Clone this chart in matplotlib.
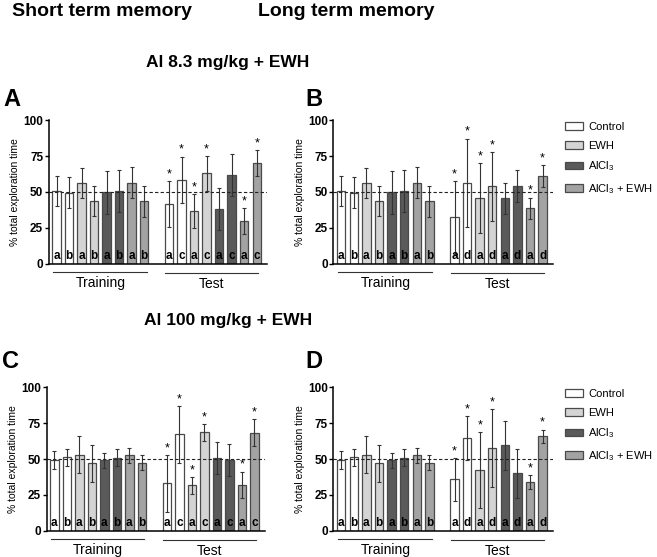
import numpy as np
import matplotlib
matplotlib.use("Agg")
import matplotlib.pyplot as plt
from matplotlib.patches import Patch
from matplotlib.transforms import blended_transform_factory

plt.rcParams['font.family'] = ['Liberation Sans', 'DejaVu Sans']
plt.rcParams['mathtext.fontset'] = 'custom'
plt.rcParams['mathtext.rm'] = 'Liberation Sans'
plt.rcParams['mathtext.it'] = 'Liberation Sans:italic'
plt.rcParams['mathtext.bf'] = 'Liberation Sans:bold'

# groups and labels
groups = ['Control', 'EWH', 'AlCl$_3$', 'AlCl$_3$ + EWH']
group_colors = ['#ffffff', '#d4d4d4', '#5a5a5a', '#a3a3a3']
train_letters = ['a', 'b', 'a', 'b', 'a', 'b', 'a', 'b']
stm_test_letters = ['a', 'c', 'a', 'c', 'a', 'c', 'a', 'c']
ltm_test_letters = ['a', 'd', 'a', 'd', 'a', 'd', 'a', 'd']
test_stars = [1, 1, 1, 1, 0, 0, 1, 1]

# Al 8.3 mg/kg + EWH
train_83_mean = [50.5, 49.5, 56.3, 43.7, 49.8, 50.7, 56.5, 43.5]
train_83_err = [10.5, 10.8, 10.7, 10.6, 14.8, 14.7, 11.0, 11.0]
stm_83_mean = [41.4, 58.4, 36.7, 63.0, 37.9, 61.9, 29.8, 70.2]
stm_83_err = [16.1, 16.3, 11.8, 12.0, 14.7, 14.6, 9.0, 9.0]
ltm_83_mean = [32.3, 56.5, 45.8, 54.0, 45.6, 54.0, 38.6, 61.2]
ltm_83_err = [25.2, 30.8, 24.1, 24.0, 11.0, 11.0, 7.5, 7.5]

# Al 100 mg/kg + EWH
train_100_mean = [49.3, 51.2, 53.0, 47.0, 49.0, 51.0, 52.6, 47.4]
train_100_err = [6.2, 6.0, 13.0, 12.8, 5.2, 5.7, 5.4, 5.3]
stm_100_mean = [33.0, 67.2, 31.6, 68.6, 50.7, 49.3, 31.9, 68.4]
stm_100_err = [19.8, 19.8, 5.8, 5.7, 11.3, 10.9, 9.3, 9.3]
ltm_100_mean = [35.8, 64.4, 42.3, 57.7, 59.5, 40.0, 34.0, 65.8]
ltm_100_err = [15.1, 15.4, 26.7, 27.1, 17.0, 16.9, 4.6, 4.7]

W, H = 657, 557
fig = plt.figure(figsize=(W / 100, H / 100), dpi=100)


def px_axes(x0, x1, ytop, ybot):
    return fig.add_axes([x0 / W, 1 - ybot / H, (x1 - x0) / W, (ybot - ytop) / H])


def panel(ax, tr_mean, tr_err, te_mean, te_err, te_letters):
    xs = np.r_[0:8, 9:17]
    means = list(tr_mean) + list(te_mean)
    errs = list(tr_err) + list(te_err)
    letters = train_letters + te_letters
    stars = [0] * 8 + test_stars
    cols = [group_colors[(i % 8) // 2] for i in range(16)]
    ax.bar(xs, means, width=0.67, color=cols, edgecolor='#4a4a4a', linewidth=0.9, zorder=2)
    ax.errorbar(xs, means, yerr=errs, fmt='none', ecolor='#333333', elinewidth=0.8,
                capsize=1.5, capthick=0.8, zorder=3)
    ax.axhline(50, color='#222222', lw=0.8, ls=(0, (3, 2)), zorder=4)
    for x, m, e, l, s in zip(xs, means, errs, letters, stars):
        ax.text(x, 1.5, l, ha='center', va='bottom', fontsize=8.5, fontweight='bold', zorder=5)
        if s:
            ax.text(x, m + e + 0.5, '*', ha='center', va='bottom', fontsize=9, zorder=5)
    ax.set_xlim(-0.63, 16.8)
    ax.set_ylim(0, 100)
    ax.set_yticks([0, 25, 50, 75, 100])
    ax.set_yticklabels(['0', '25', '50', '75', '100'], fontweight='bold', fontsize=8.5)
    ax.set_xticks([])
    ax.spines['top'].set_visible(False)
    ax.spines['right'].set_visible(False)
    ax.spines['left'].set_linewidth(1.1)
    ax.spines['bottom'].set_linewidth(1.1)
    ax.tick_params(axis='y', length=3, width=1, pad=1)
    ax.set_ylabel('% total exploration time', fontsize=7.5, labelpad=2)
    tr = blended_transform_factory(ax.transData, ax.transAxes)
    ax.plot([-0.26, 7.2], [-0.06, -0.06], color='#333333', lw=0.8, transform=tr, clip_on=False)
    ax.plot([8.7, 16.1], [-0.068, -0.068], color='#333333', lw=0.8, transform=tr, clip_on=False)
    ax.text(3.5, -0.085, 'Training', ha='center', va='top', fontsize=10, transform=tr)
    ax.text(12.4, -0.09, 'Test', ha='center', va='top', fontsize=10, transform=tr)


axA = px_axes(48.7, 266.7, 120.3, 263.7)
axB = px_axes(333.3, 552.7, 120.3, 263.7)
axC = px_axes(46.5, 264.5, 387.3, 530.7)
axD = px_axes(333.3, 552.7, 387.3, 530.7)

panel(axA, train_83_mean, train_83_err, stm_83_mean, stm_83_err, stm_test_letters)
panel(axB, train_83_mean, train_83_err, ltm_83_mean, ltm_83_err, ltm_test_letters)
panel(axC, train_100_mean, train_100_err, stm_100_mean, stm_100_err, stm_test_letters)
panel(axD, train_100_mean, train_100_err, ltm_100_mean, ltm_100_err, ltm_test_letters)

handles = [Patch(facecolor=c, edgecolor='#4a4a4a', linewidth=0.9) for c in group_colors]
for ax, ytop in [(axB, 122), (axD, 389)]:
    ax.legend(handles, groups, loc='upper left', bbox_to_anchor=(565 / W, 1 - ytop / H),
              bbox_transform=fig.transFigure, frameon=False, fontsize=8,
              handlelength=1.6, handleheight=0.7, handletextpad=0.5, labelspacing=0.78,
              borderpad=0, borderaxespad=0)

# headings
fig.text(12 / W, 1 - 12 / H, 'Short term memory', fontsize=14, fontweight='bold', va='center')
fig.text(258 / W, 1 - 12 / H, 'Long term memory', fontsize=14, fontweight='bold', va='center')
fig.text(228 / W, 1 - 62 / H, 'Al 8.3 mg/kg + EWH', fontsize=12.5, fontweight='bold', ha='center', va='center')
fig.text(228 / W, 1 - 320 / H, 'Al 100 mg/kg + EWH', fontsize=12.5, fontweight='bold', ha='center', va='center')
for lab, x, y in [('A', 3, 99), ('B', 305, 99), ('C', 2, 362), ('D', 305, 362)]:
    fig.text(x / W, 1 - y / H, lab, fontsize=17, fontweight='bold', va='center')

fig.savefig('out.png', dpi=100)
